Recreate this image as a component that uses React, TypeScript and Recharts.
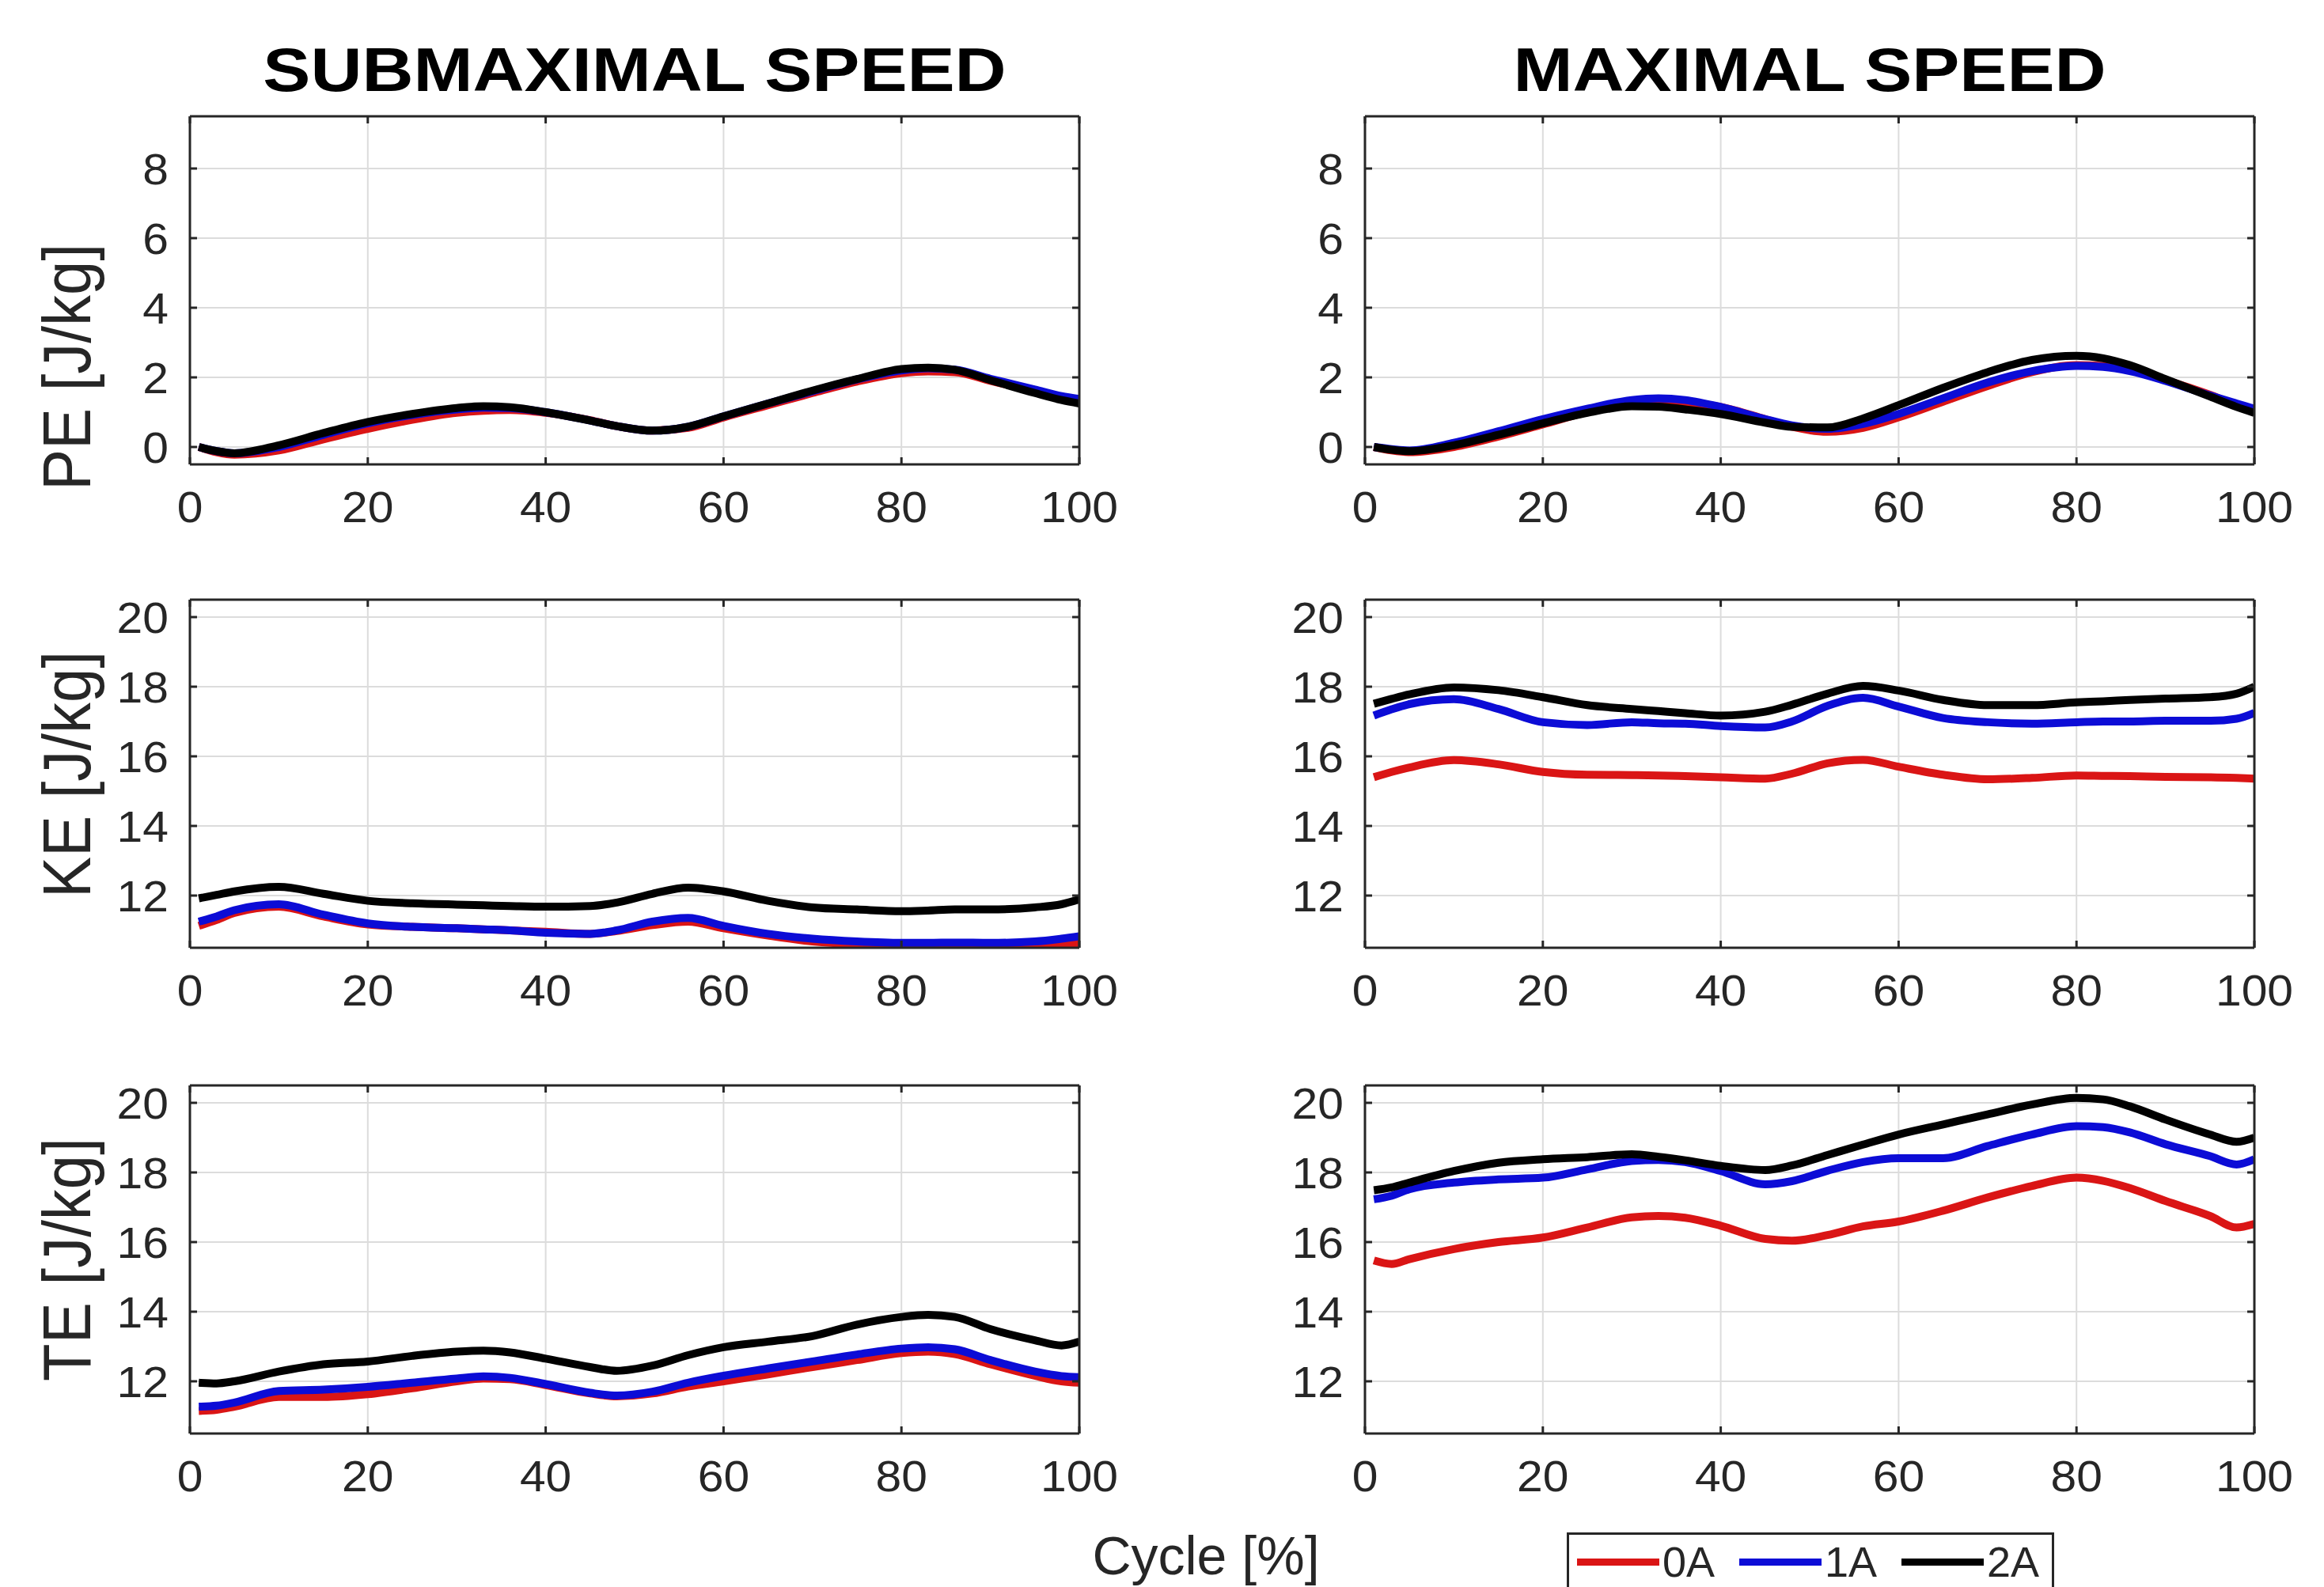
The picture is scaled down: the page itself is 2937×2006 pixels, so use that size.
import React from "react";
import { LineChart, Line, XAxis, YAxis, CartesianGrid } from "recharts";

// gait cycle positions (%) shared by every curve
const cycle = [1, 3, 5, 10, 15, 20, 25, 30, 33, 36, 40, 45, 48, 52, 56, 60, 65, 70, 75, 80, 83, 86, 90, 95, 98, 100];

// PE, submaximal speed
const peSub0A = [0, -0.15, -0.22, -0.1, 0.22, 0.52, 0.78, 0.98, 1.04, 1.06, 0.98, 0.77, 0.6, 0.47, 0.55, 0.85, 1.2, 1.55, 1.88, 2.12, 2.17, 2.15, 1.9, 1.6, 1.4, 1.3];
const peSub1A = [0, -0.12, -0.18, 0.0, 0.35, 0.68, 0.92, 1.08, 1.13, 1.12, 1.0, 0.76, 0.6, 0.47, 0.58, 0.88, 1.25, 1.6, 1.94, 2.2, 2.26, 2.22, 1.96, 1.65, 1.46, 1.38];
const peSub2A = [0, -0.12, -0.18, 0.05, 0.4, 0.72, 0.95, 1.12, 1.17, 1.14, 1.0, 0.76, 0.6, 0.47, 0.58, 0.88, 1.25, 1.62, 1.95, 2.24, 2.28, 2.22, 1.92, 1.55, 1.35, 1.25];

// PE, maximal speed
const peMax0A = [0, -0.1, -0.15, 0.0, 0.3, 0.65, 1.0, 1.25, 1.3, 1.28, 1.15, 0.8, 0.58, 0.44, 0.55, 0.85, 1.3, 1.75, 2.15, 2.35, 2.33, 2.2, 1.92, 1.5, 1.2, 1.05];
const peMax1A = [0, -0.06, -0.1, 0.12, 0.45, 0.8, 1.1, 1.35, 1.4, 1.35, 1.15, 0.8, 0.62, 0.52, 0.66, 0.95, 1.4, 1.85, 2.18, 2.33, 2.3, 2.18, 1.9, 1.48, 1.25, 1.1];
const peMax2A = [0, -0.08, -0.12, 0.05, 0.35, 0.68, 0.98, 1.17, 1.16, 1.08, 0.95, 0.7, 0.58, 0.56, 0.82, 1.2, 1.7, 2.15, 2.5, 2.62, 2.55, 2.35, 1.95, 1.45, 1.15, 0.98];

// KE, submaximal speed
const keSub0A = [11.13, 11.3, 11.5, 11.68, 11.4, 11.17, 11.1, 11.06, 11.03, 11.0, 10.96, 10.9, 10.98, 11.15, 11.25, 11.06, 10.85, 10.68, 10.6, 10.57, 10.56, 10.55, 10.55, 10.56, 10.6, 10.64];
const keSub1A = [11.25, 11.4, 11.58, 11.75, 11.45, 11.2, 11.1, 11.06, 11.03, 11.0, 10.93, 10.9, 11.0, 11.25, 11.36, 11.13, 10.9, 10.76, 10.68, 10.64, 10.64, 10.65, 10.64, 10.68, 10.76, 10.83];
const keSub2A = [11.92, 12.02, 12.12, 12.25, 12.05, 11.85, 11.78, 11.74, 11.72, 11.7, 11.68, 11.7, 11.8, 12.05, 12.23, 12.12, 11.85, 11.66, 11.6, 11.55, 11.57, 11.6, 11.6, 11.66, 11.75, 11.89];

// KE, maximal speed
const keMax0A = [15.4, 15.55, 15.68, 15.89, 15.77, 15.55, 15.47, 15.46, 15.45, 15.43, 15.4, 15.36, 15.5, 15.8, 15.9, 15.7, 15.47, 15.34, 15.38, 15.45, 15.44, 15.43, 15.41, 15.4, 15.38, 15.36];
const keMax1A = [17.17, 17.35, 17.5, 17.64, 17.36, 16.98, 16.9, 16.98, 16.95, 16.94, 16.87, 16.83, 17.0, 17.45, 17.68, 17.43, 17.1, 16.98, 16.94, 16.98, 17.0, 17.0, 17.02, 17.02, 17.08, 17.25];
const keMax2A = [17.51, 17.65, 17.78, 17.98, 17.9, 17.7, 17.47, 17.36, 17.3, 17.24, 17.17, 17.28, 17.48, 17.8, 18.02, 17.89, 17.62, 17.47, 17.47, 17.55, 17.58, 17.62, 17.66, 17.7, 17.8, 18.0];

// TE, submaximal speed
const teSub0A = [11.15, 11.18, 11.27, 11.55, 11.55, 11.63, 11.8, 12.0, 12.08, 12.06, 11.89, 11.65, 11.57, 11.65, 11.85, 12.0, 12.2, 12.41, 12.61, 12.81, 12.85, 12.78, 12.49, 12.16, 12.0, 11.96];
const teSub1A = [11.27, 11.3, 11.39, 11.72, 11.76, 11.84, 11.96, 12.08, 12.14, 12.1, 11.92, 11.67, 11.59, 11.7, 11.96, 12.16, 12.37, 12.57, 12.77, 12.94, 12.98, 12.92, 12.61, 12.28, 12.15, 12.12];
const teSub2A = [11.96, 11.94, 12.0, 12.28, 12.49, 12.57, 12.73, 12.85, 12.88, 12.83, 12.65, 12.41, 12.3, 12.45, 12.75, 12.98, 13.14, 13.3, 13.63, 13.85, 13.91, 13.85, 13.5, 13.18, 13.03, 13.14];

// TE, maximal speed
const teMax0A = [15.47, 15.37, 15.51, 15.8, 16.0, 16.13, 16.42, 16.71, 16.75, 16.7, 16.47, 16.09, 16.04, 16.2, 16.45, 16.59, 16.9, 17.28, 17.61, 17.85, 17.76, 17.55, 17.18, 16.75, 16.42, 16.52];
const teMax1A = [17.23, 17.33, 17.52, 17.71, 17.8, 17.85, 18.09, 18.33, 18.36, 18.3, 18.04, 17.66, 17.75, 18.05, 18.3, 18.41, 18.41, 18.76, 19.09, 19.33, 19.3, 19.15, 18.81, 18.47, 18.23, 18.38];
const teMax2A = [17.49, 17.57, 17.71, 18.04, 18.28, 18.38, 18.44, 18.52, 18.45, 18.35, 18.19, 18.07, 18.2, 18.5, 18.8, 19.09, 19.38, 19.67, 19.95, 20.14, 20.1, 19.9, 19.52, 19.09, 18.88, 19.0];

const xTicks = [0, 20, 40, 60, 80, 100];
const peTicks = [0, 2, 4, 6, 8];
const energyTicks = [12, 14, 16, 18, 20];

const seriesNames = ["0A", "1A", "2A"];
const seriesColors = ["#da1515", "#0c0cd6", "#000000"];

const FONT = "'Liberation Sans', Arial, Helvetica, sans-serif";
const INK = "#262626";

const PLOT_W = 1124;
const PLOT_H = 440;
const Y_AXIS_W = 150;
const X_AXIS_H = 110;
const M_TOP = 20;
const M_RIGHT = 50;

const axisStyle = { stroke: INK, strokeWidth: 3 };

const XTick = (props: any) => {
  const { x, y, payload } = props;
  return (
    <text
      transform={`translate(${x},${y + 73}) scale(1.05,1)`}
      textAnchor="middle"
      fontSize={56}
      fill={INK}
      fontFamily={FONT}
    >
      {payload.value}
    </text>
  );
};

const YTick = (props: any) => {
  const { x, y, payload } = props;
  return (
    <text
      transform={`translate(${x - 27},${y + 20}) scale(1.05,1)`}
      textAnchor="end"
      fontSize={56}
      fill={INK}
      fontFamily={FONT}
    >
      {payload.value}
    </text>
  );
};

const NoTick = () => <g />;

type PanelProps = {
  series: number[][];
  domain: [number, number];
  ticks: number[];
  plotLeft: number;
  plotTop: number;
};

const Panel = ({ series, domain, ticks, plotLeft, plotTop }: PanelProps) => {
  const rows = cycle.map((c, i) => ({
    cycle: c,
    s0: series[0][i],
    s1: series[1][i],
    s2: series[2][i],
  }));
  return (
    <div style={{ position: "absolute", left: plotLeft - Y_AXIS_W, top: plotTop - M_TOP - 1 }}>
      <LineChart
        width={Y_AXIS_W + PLOT_W + 1 + M_RIGHT}
        height={M_TOP + 1 + PLOT_H + X_AXIS_H}
        data={rows}
        margin={{ top: M_TOP, right: M_RIGHT, left: 0, bottom: 0 }}
      >
        <CartesianGrid stroke="#dcdcdc" strokeWidth={2} />
        <XAxis
          dataKey="cycle"
          type="number"
          domain={[0, 100]}
          ticks={xTicks}
          allowDataOverflow
          height={X_AXIS_H}
          tickSize={-9}
          tickMargin={9}
          axisLine={axisStyle}
          tickLine={axisStyle}
          tick={XTick}
          interval={0}
        />
        <XAxis
          xAxisId="top"
          orientation="top"
          dataKey="cycle"
          type="number"
          domain={[0, 100]}
          ticks={xTicks}
          allowDataOverflow
          height={1}
          tickSize={-9}
          axisLine={axisStyle}
          tickLine={axisStyle}
          tick={NoTick}
          interval={0}
        />
        <YAxis
          type="number"
          domain={domain}
          ticks={ticks}
          allowDataOverflow
          width={Y_AXIS_W}
          tickSize={-9}
          tickMargin={9}
          axisLine={axisStyle}
          tickLine={axisStyle}
          tick={YTick}
          interval={0}
        />
        <YAxis
          yAxisId="right"
          orientation="right"
          type="number"
          domain={domain}
          ticks={ticks}
          allowDataOverflow
          width={1}
          tickSize={-9}
          axisLine={axisStyle}
          tickLine={axisStyle}
          tick={NoTick}
          interval={0}
        />
        {seriesNames.map((name, k) => (
          <Line
            key={name}
            dataKey={`s${k}`}
            name={name}
            type="monotone"
            stroke={seriesColors[k]}
            strokeWidth={10}
            dot={false}
            isAnimationActive={false}
          />
        ))}
      </LineChart>
    </div>
  );
};

const YLabel = ({ text, cx, cy }: { text: string; cx: number; cy: number }) => (
  <div
    style={{
      position: "absolute",
      left: cx - 200,
      top: cy - 45,
      width: 400,
      height: 90,
      lineHeight: "90px",
      textAlign: "center",
      fontSize: 78,
      fontFamily: FONT,
      color: INK,
      whiteSpace: "nowrap",
      transform: "rotate(-90deg) scaleY(1.1)",
    }}
  >
    {text}
  </div>
);

const Title = ({ text, cx }: { text: string; cx: number }) => (
  <div
    style={{
      position: "absolute",
      left: cx - 600,
      top: 43,
      width: 1200,
      height: 90,
      lineHeight: "90px",
      textAlign: "center",
      fontSize: 78,
      fontWeight: "bold",
      fontFamily: FONT,
      color: "#000",
      whiteSpace: "nowrap",
      transform: "scaleX(1.155)",
    }}
  >
    {text}
  </div>
);

const LEFT_COL = 240;
const RIGHT_COL = 1725;
const ROWS = [147, 758, 1372];

export default function App() {
  return (
    <div
      style={{
        position: "absolute",
        left: 0,
        top: 0,
        width: 2937,
        height: 2006,
        overflow: "hidden",
        background: "#fff",
        fontFamily: FONT,
      }}
    >
      <Title text="SUBMAXIMAL SPEED" cx={802} />
      <Title text="MAXIMAL SPEED" cx={2287} />

      <YLabel text="PE [J/kg]" cx={84} cy={464} />
      <YLabel text="KE [J/kg]" cx={84} cy={979} />
      <YLabel text="TE [J/kg]" cx={84} cy={1592} />

      <Panel series={[peSub0A, peSub1A, peSub2A]} domain={[-0.5, 9.5]} ticks={peTicks} plotLeft={LEFT_COL} plotTop={ROWS[0]} />
      <Panel series={[peMax0A, peMax1A, peMax2A]} domain={[-0.5, 9.5]} ticks={peTicks} plotLeft={RIGHT_COL} plotTop={ROWS[0]} />
      <Panel series={[keSub0A, keSub1A, keSub2A]} domain={[10.5, 20.5]} ticks={energyTicks} plotLeft={LEFT_COL} plotTop={ROWS[1]} />
      <Panel series={[keMax0A, keMax1A, keMax2A]} domain={[10.5, 20.5]} ticks={energyTicks} plotLeft={RIGHT_COL} plotTop={ROWS[1]} />
      <Panel series={[teSub0A, teSub1A, teSub2A]} domain={[10.5, 20.5]} ticks={energyTicks} plotLeft={LEFT_COL} plotTop={ROWS[2]} />
      <Panel series={[teMax0A, teMax1A, teMax2A]} domain={[10.5, 20.5]} ticks={energyTicks} plotLeft={RIGHT_COL} plotTop={ROWS[2]} />

      <div
        style={{
          position: "absolute",
          left: 1374,
          top: 1930,
          width: 300,
          textAlign: "center",
          fontSize: 68,
          lineHeight: "72px",
          color: INK,
          whiteSpace: "nowrap",
        }}
      >
        Cycle [%]
      </div>

      <div
        style={{
          position: "absolute",
          left: 1980,
          top: 1937,
          width: 616,
          height: 100,
          border: `3px solid ${INK}`,
          background: "#fff",
          boxSizing: "border-box",
        }}
      >
        {seriesNames.map((name, k) => (
          <div
            key={name}
            style={{
              position: "absolute",
              left: 10 + k * 205,
              top: 5,
              height: 58,
              display: "flex",
              alignItems: "center",
            }}
          >
            <div style={{ width: 104, height: 9, background: seriesColors[k] }} />
            <span style={{ marginLeft: 4, fontSize: 54, lineHeight: "58px", color: INK }}>{name}</span>
          </div>
        ))}
      </div>
    </div>
  );
}
